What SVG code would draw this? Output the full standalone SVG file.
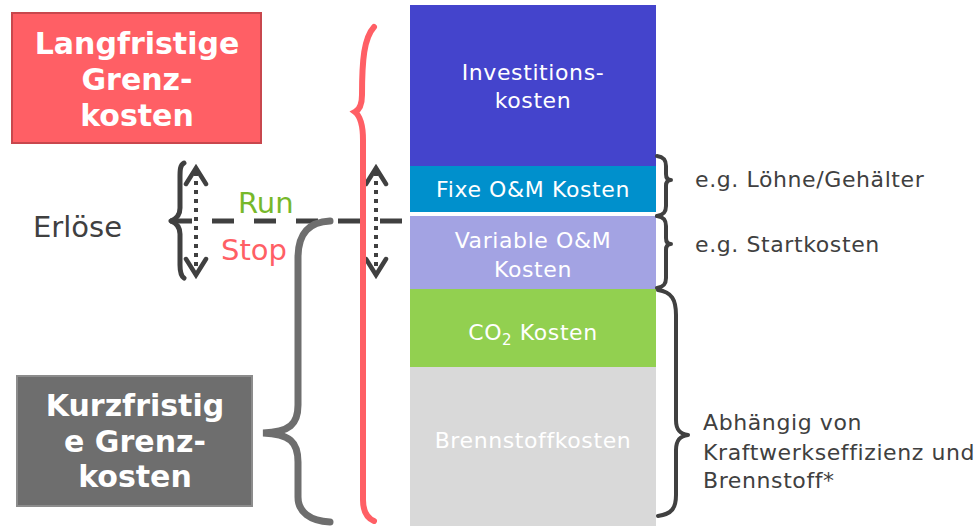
<svg xmlns="http://www.w3.org/2000/svg" width="980" height="526" viewBox="0 0 980 526">
<style>
text{font-family:"DejaVu Sans","Verdana",sans-serif}
.bar{fill:#fff;font-size:22px;letter-spacing:0.6px;text-anchor:middle}
.lbl{fill:#404040;font-size:22px;letter-spacing:0.6px}
.box{fill:#fff;font-size:30px;font-weight:bold;text-anchor:middle}
.br{fill:none;stroke:#404040;stroke-width:4;stroke-linecap:round;stroke-linejoin:round}
.dot{fill:none;stroke:#404040;stroke-width:4;stroke-dasharray:4 5}
.chev{fill:none;stroke:#404040;stroke-width:4.5;stroke-linecap:round;stroke-linejoin:miter}
</style>
<rect width="980" height="526" fill="#fff"/>
<g id="stack">
<g id="investition"><rect x="410" y="5" width="246" height="161" fill="#4444CC"/><text class="bar" x="533" y="80">Investitions-</text><text class="bar" x="533" y="108">kosten</text></g>
<g id="fixe"><rect x="410" y="166" width="246" height="46" fill="#0090CC"/><text class="bar" x="533" y="197">Fixe O&amp;M Kosten</text></g>
<g id="variable"><rect x="410" y="216" width="246" height="73" fill="#A3A3E3"/><text class="bar" x="533" y="248">Variable O&amp;M</text><text class="bar" x="533" y="277">Kosten</text></g>
<g id="co2"><rect x="410" y="289" width="246" height="78" fill="#92D050"/><text class="bar" x="533" y="340">CO<tspan font-size="15" dy="5">2</tspan><tspan dy="-5"> Kosten</tspan></text></g>
<g id="brennstoff"><rect x="410" y="367" width="246" height="159" fill="#D9D9D9"/><text class="bar" x="533" y="448">Brennstoffkosten</text></g>
</g>
<g id="langfristig"><rect x="12" y="13" width="249" height="130" fill="#FF5F65" stroke="#C8474D" stroke-width="2"/><text class="box" x="137" y="54">Langfristige</text><text class="box" x="137" y="90">Grenz-</text><text class="box" x="137" y="126">kosten</text></g>
<g id="kurzfristig"><rect x="17" y="376" width="235" height="130" fill="#6E6E6E" stroke="#8C8C8C" stroke-width="2"/><text class="box" x="135" y="416">Kurzfristig</text><text class="box" x="135" y="452">e Grenz-</text><text class="box" x="135" y="487">kosten</text></g>
<g id="erloese"><text x="33" y="237" fill="#404040" font-size="29">Erlöse</text></g>
<g id="run"><text x="238" y="213" fill="#77B82A" font-size="29">Run</text></g>
<g id="stop"><text x="221" y="260" fill="#FF5F65" font-size="29">Stop</text></g>
<g id="notes">
<text class="lbl" x="695" y="187">e.g. Löhne/Gehälter</text>
<text class="lbl" x="695" y="252">e.g. Startkosten</text>
<text class="lbl" x="703" y="430">Abhängig von</text>
<text class="lbl" x="703" y="460">Kraftwerkseffizienz und</text>
<text class="lbl" x="703" y="488">Brennstoff*</text>
</g>
<g id="connectors">
<path d="M170,221 H404" fill="none" stroke="#404040" stroke-width="5" stroke-dasharray="22 20"/>
<path class="br" style="stroke-width:5" d="M184,163 C180,165 180,170 180,178 L180,208 C180,215 176,219 171,221 C176,223 180,227 180,234 L180,265 C180,272 181,276 184,278"/>
<path class="dot" d="M196,172 V272"/>
<path class="chev" d="M186,184 L196,168 L206,184 M186,259 L196,275 L206,259"/>
<path d="M330,221 C310,222 298,232 298,258 L298,405 C298,424 290,432 263,433 C290,434 298,442 298,462 L298,497 C298,512 310,521 330,522" fill="none" stroke="#6E6E6E" stroke-width="7" stroke-linecap="round"/>
<path class="dot" d="M376,172 V272"/>
<path class="chev" d="M366,184 L376,168 L386,184 M366,259 L376,275 L386,259"/>
<path d="M374,27 C364,38 362,60 362,95 C362,105 359,110 355,112 C360,116 363,125 363,140 L363,500 C363,512 367,518 374,521" fill="none" stroke="#FF5F65" stroke-width="6" stroke-linecap="round"/>
<path class="br" d="M657,156 C664,157 666,160 666,166 L666,174 C666,178 668,180 671,180 C668,180 666,182 666,186 L666,206 C666,212 664,215 657,216"/>
<path class="br" d="M657,216 C664,217 666,220 666,226 L666,238 C666,242 668,244 671,244 C668,244 666,246 666,250 L666,278 C666,284 664,287 657,288"/>
<path class="br" d="M658,290 C672,292 676,300 676,315 L676,420 C676,430 680,434 688,435 C680,436 676,440 676,450 L676,495 C676,508 672,514 658,516"/>
</g>
</svg>
